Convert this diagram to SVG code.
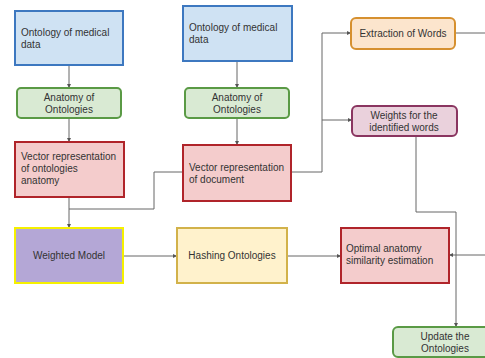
<svg xmlns="http://www.w3.org/2000/svg" width="485" height="358" viewBox="0 0 485 358">
<defs>
<marker id="ah" viewBox="0 0 6 6" refX="6" refY="3" markerWidth="4" markerHeight="4" orient="auto"><path d="M0,0 L6,3 L0,6 z" fill="#555"/></marker>
<style>
text{font-family:"Liberation Sans",Arial,sans-serif;font-size:10px;fill:#333}
.c{text-anchor:middle}
.blue{fill:#cfe2f3;stroke:#3d78c0;stroke-width:2}
.green{fill:#d9ead3;stroke:#5a9a45;stroke-width:2}
.red{fill:#f4cccc;stroke:#b0242a;stroke-width:2}
.orange{fill:#fce5cd;stroke:#d6902f;stroke-width:2}
.pink{fill:#ead1dc;stroke:#8a3560;stroke-width:2}
.purple{fill:#b4a7d6;stroke:#f5f000;stroke-width:2}
.yellow{fill:#fff2cc;stroke:#d2b24a;stroke-width:2}
.conn path{fill:none;stroke:#666;stroke-width:1}
</style>
</defs>
<rect width="485" height="358" fill="#fff"/>
<g class="conn">
<path d="M69,65 V88" marker-end="url(#ah)"/>
<path d="M69,118 V142" marker-end="url(#ah)"/>
<path d="M69,197 V228" marker-end="url(#ah)"/>
<path d="M183,172 H154 V209 H69"/>
<path d="M237,61 V88" marker-end="url(#ah)"/>
<path d="M237,118 V145" marker-end="url(#ah)"/>
<path d="M291,172 H322 V33 H351" marker-end="url(#ah)"/>
<path d="M322,120 H352" marker-end="url(#ah)"/>
<path d="M455,33 H495"/>
<path d="M495,255 H449" marker-end="url(#ah)"/>
<path d="M416,136 V212 H456 V327" marker-end="url(#ah)"/>
<path d="M123,256 H177" marker-end="url(#ah)"/>
<path d="M287,256 H341" marker-end="url(#ah)"/>
</g>
<g id="onto1"><rect class="blue" x="15" y="11" width="108" height="54"/><text x="21" y="36">Ontology of medical</text><text x="21" y="48">data</text></g>
<g id="onto2"><rect class="blue" x="183" y="6" width="109" height="55"/><text x="189" y="31">Ontology of medical</text><text x="189" y="43">data</text></g>
<g id="anat1"><rect class="green" x="17" y="88" width="104" height="30" rx="4"/><text class="c" x="69" y="101">Anatomy of</text><text class="c" x="69" y="113">Ontologies</text></g>
<g id="anat2"><rect class="green" x="185" y="88" width="104" height="30" rx="4"/><text class="c" x="237" y="101">Anatomy of</text><text class="c" x="237" y="113">Ontologies</text></g>
<g id="vec1"><rect class="red" x="15" y="142" width="109" height="55"/><text x="21" y="160">Vector representation</text><text x="21" y="172">of ontologies</text><text x="21" y="184">anatomy</text></g>
<g id="vec2"><rect class="red" x="183" y="145" width="108" height="56"/><text x="189" y="171">Vector representation</text><text x="189" y="183">of document</text></g>
<g id="extract"><rect class="orange" x="351" y="18" width="104" height="31" rx="5"/><text class="c" x="403" y="37">Extraction of Words</text></g>
<g id="weights"><rect class="pink" x="352" y="106" width="105" height="30" rx="5"/><text class="c" x="404" y="119">Weights for the</text><text class="c" x="404" y="131">identified words</text></g>
<g id="weighted"><rect class="purple" x="15" y="228" width="108" height="55"/><text class="c" x="69" y="259">Weighted Model</text></g>
<g id="hashing"><rect class="yellow" x="177" y="228" width="110" height="55"/><text class="c" x="232" y="259">Hashing Ontologies</text></g>
<g id="optimal"><rect class="red" x="341" y="228" width="108" height="55"/><text x="346" y="252">Optimal anatomy</text><text x="346" y="264">similarity estimation</text></g>
<g id="update"><rect class="green" x="393" y="327" width="104" height="30" rx="5"/><text class="c" x="445" y="340">Update the</text><text class="c" x="445" y="352">Ontologies</text></g>
</svg>
